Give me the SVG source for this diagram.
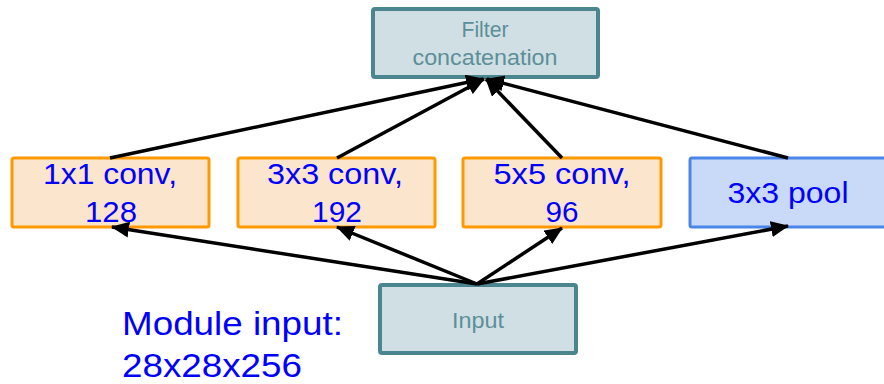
<svg xmlns="http://www.w3.org/2000/svg" width="884" height="384" viewBox="0 0 884 384">
<style>
.teal{fill:#d0dfe3;stroke:#4b8590;stroke-width:4}
.orange{fill:#fce5cd;stroke:#ff9900;stroke-width:3}
.blue{fill:#c9daf8;stroke:#4a86e8;stroke-width:3}
.tl{font-family:"Liberation Sans",Arial,sans-serif;font-size:22px;fill:#5c8f99;text-anchor:middle}
.bl{font-family:"Liberation Sans",Arial,sans-serif;font-size:29px;fill:#0000ff;text-anchor:middle}
.big{font-family:"Liberation Sans",Arial,sans-serif;font-size:33px;fill:#0000ff}
.c{stroke:#000;stroke-width:3.5;fill:none;marker-end:url(#ah)}
</style>
<defs>
<marker id="ah" markerUnits="userSpaceOnUse" markerWidth="18" markerHeight="16" refX="17" refY="8" orient="auto">
<path d="M0,0 L18,8 L0,16 Z" fill="#000"/>
</marker>
</defs>
<g id="filter">
<rect class="teal" x="373" y="9" width="225" height="68" rx="2"/>
<text class="tl" x="485" y="37" textLength="47" lengthAdjust="spacingAndGlyphs">Filter</text>
<text class="tl" x="485" y="65" textLength="145" lengthAdjust="spacingAndGlyphs">concatenation</text>
</g>
<g id="conv1">
<rect class="orange" x="12" y="158" width="197" height="69" rx="2"/>
<text class="bl" x="110" y="184" textLength="134" lengthAdjust="spacingAndGlyphs">1x1 conv,</text>
<text class="bl" x="111" y="222" textLength="52" lengthAdjust="spacingAndGlyphs">128</text>
</g>
<g id="conv3">
<rect class="orange" x="238" y="158" width="197" height="69" rx="2"/>
<text class="bl" x="335" y="184" textLength="136" lengthAdjust="spacingAndGlyphs">3x3 conv,</text>
<text class="bl" x="337" y="222" textLength="50" lengthAdjust="spacingAndGlyphs">192</text>
</g>
<g id="conv5">
<rect class="orange" x="463" y="158" width="198" height="69" rx="2"/>
<text class="bl" x="562" y="184" textLength="137" lengthAdjust="spacingAndGlyphs">5x5 conv,</text>
<text class="bl" x="562" y="222" textLength="33" lengthAdjust="spacingAndGlyphs">96</text>
</g>
<g id="pool">
<rect class="blue" x="690" y="158" width="198" height="69" rx="2"/>
<text class="bl" x="788" y="203" textLength="121" lengthAdjust="spacingAndGlyphs">3x3 pool</text>
</g>
<g id="input">
<rect class="teal" x="380" y="285" width="196" height="68" rx="2"/>
<text class="tl" x="478" y="328" textLength="52" lengthAdjust="spacingAndGlyphs">Input</text>
</g>
<g id="module-input">
<text class="big" x="122" y="335" textLength="221" lengthAdjust="spacingAndGlyphs">Module input:</text>
<text class="big" x="122" y="377" textLength="180" lengthAdjust="spacingAndGlyphs">28x28x256</text>
</g>
<g id="connectors">
<line class="c" x1="110" y1="158" x2="483" y2="79"/>
<line class="c" x1="337" y1="158" x2="484" y2="79"/>
<line class="c" x1="562" y1="158" x2="486" y2="79"/>
<line class="c" x1="788" y1="158" x2="487" y2="79"/>
<line class="c" x1="477" y1="284" x2="112" y2="227"/>
<line class="c" x1="477" y1="284" x2="337" y2="227"/>
<line class="c" x1="477" y1="284" x2="562" y2="228"/>
<line class="c" x1="477" y1="284" x2="788" y2="226"/>
</g>
</svg>
